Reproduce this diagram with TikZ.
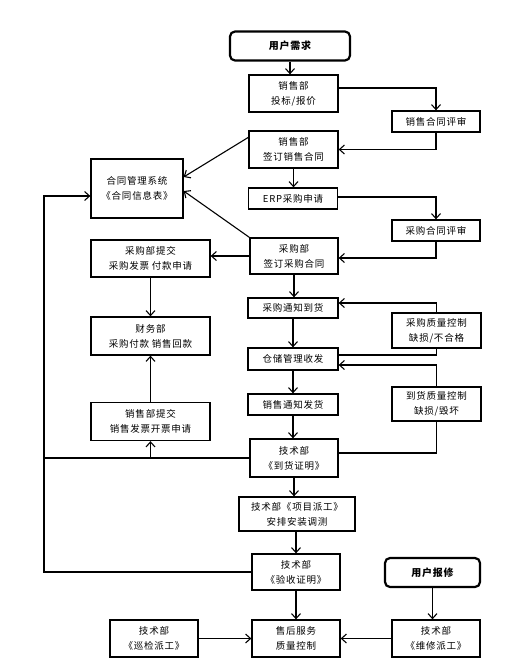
\documentclass[tikz,border=0pt]{standalone}
\usepackage{fontspec}
\setmainfont{Noto Sans CJK SC}[LetterSpace=8]
\usetikzlibrary{arrows.meta}
\begin{document}
\begin{tikzpicture}[x=1pt,y=-1pt,
  box/.style={draw,line width=1.3pt,rectangle,inner sep=0pt,align=center,
    font=\fontsize{9.5}{15}\selectfont},
  rbox/.style={box,rounded corners=5pt,line width=2.2pt,font=\fontsize{10}{15}\selectfont\bfseries},
  conn/.style={line width=1.1pt},
  arr/.style={conn,-{Straight Barb[length=5pt,width=9pt,line width=1.1pt]}}]
\useasboundingbox[fill=white] (0,0) rectangle (516,671);
% nodes
\node[rbox,minimum width=120pt,minimum height=29pt] (ur) at (290,46) {用户需求};
\node[box,minimum width=89pt,minimum height=37pt] (tb) at (293.5,93.5) {销售部\\投标/报价};
\node[box,minimum width=88pt,minimum height=21pt] (xps) at (436,121.5) {销售合同评审};
\node[box,minimum width=89pt,minimum height=37pt] (qx) at (293.5,149.5) {销售部\\签订销售合同};
\node[box,minimum width=92pt,minimum height=59pt] (ht) at (137,188.5) {合同管理系统\\《合同信息表》};
\node[box,minimum width=89pt,minimum height=21pt] (erp) at (293,198.5) {ERP采购申请};
\node[box,minimum width=88pt,minimum height=21pt] (cps) at (436,230.5) {采购合同评审};
\node[box,minimum width=88pt,minimum height=36pt] (qc) at (294,256) {采购部\\签订采购合同};
\node[box,minimum width=119pt,minimum height=37pt] (ctj) at (150.5,258.5) {采购部提交\\采购发票 付款申请};
\node[box,minimum width=119pt,minimum height=38pt] (cw) at (150.5,336) {财务部\\采购付款 销售回款};
\node[box,minimum width=119pt,minimum height=38pt] (xtj) at (150.5,421.5) {销售部提交\\销售发票开票申请};
\node[box,minimum width=90pt,minimum height=20pt] (cd) at (293,308) {采购通知到货};
\node[box,minimum width=89pt,minimum height=35pt] (cq) at (436.5,330.5) {采购质量控制\\缺损/不合格};
\node[box,minimum width=90pt,minimum height=22pt] (cc) at (293,359) {仓储管理收发};
\node[box,minimum width=89pt,minimum height=34pt] (dq) at (436.5,404) {到货质量控制\\缺损/毁坏};
\node[box,minimum width=90pt,minimum height=21pt] (xf) at (293,404.5) {销售通知发货};
\node[box,minimum width=88pt,minimum height=38pt] (dh) at (294,458) {技术部\\《到货证明》};
\node[box,minimum width=116pt,minimum height=34pt] (pg) at (297,514) {技术部《项目派工》\\安排安装调测};
\node[box,minimum width=88pt,minimum height=36pt] (ys) at (296,572) {技术部\\《验收证明》};
\node[rbox,minimum width=95pt,minimum height=29pt] (bx) at (432.5,572.5) {用户报修};
\node[box,minimum width=88pt,minimum height=37pt] (sh) at (296,638.5) {售后服务\\质量控制};
\node[box,minimum width=88pt,minimum height=37pt] (xj) at (154,638.5) {技术部\\《巡检派工》};
\node[box,minimum width=88pt,minimum height=37pt] (wx) at (436,638.5) {技术部\\《维修派工》};
\coordinate (lc) at (44,196);
% connectors
\draw[arr] (ur.south) -- (ur.south |- tb.north);
\draw[arr] ([yshift=5.5pt]tb.east) -| (xps.north);
\draw[arr] (xps.south) |- (qx.east);
\draw[arr] (qx.south) -- (qx.south |- erp.north);
\draw[arr] ([yshift=1.5pt]erp.east) -| (cps.north);
\draw[arr] (cps.south) |- ([yshift=-2pt]qc.east);
\draw[arr] (qc.west) -- (qc.west -| ctj.east);
\draw[arr] ([yshift=-7pt]qx.north west) -- ([yshift=11.5pt]ht.east);
\draw[arr] (qc.north west) -- ([yshift=-2.5pt]ht.east);
\draw[arr] (ctj.south) -- (cw.north);
\draw[arr] (xtj.north) -- (cw.south);
\draw[arr] (qc.south) -- (qc.south |- cd.north);
\draw[arr] (cq.north) |- ([yshift=5pt]cd.east);
\draw[conn] (cq.south) |- ([yshift=4pt]cc.east);
\draw[arr] (dq.north) |- ([yshift=-6pt]cc.east);
\draw[conn] (dq.south) |- ([yshift=5pt]dh.east);
\draw[arr] (cd.south) -- (cc.north);
\draw[arr] (cc.south) -- (xf.north);
\draw[arr] (xf.south) -- (xf.south |- dh.north);
\draw[conn] (dh.west) -- (dh.west -| lc);
\draw[arr] (xtj.south |- dh.west) -- (xtj.south);
\draw[arr] (ys.west) -| (lc) -- (lc -| ht.west);
\draw[arr] (dh.south) -- (dh.south |- pg.north);
\draw[arr] (ys.north |- pg.south) -- (ys.north);
\draw[arr] (ys.south) -- (sh.north);
\draw[arr] (xj.east) -- (sh.west);
\draw[arr] (wx.west) -- (sh.east);
\draw[arr] (bx.south) -- (bx.south |- wx.north);
\end{tikzpicture}
\end{document}
